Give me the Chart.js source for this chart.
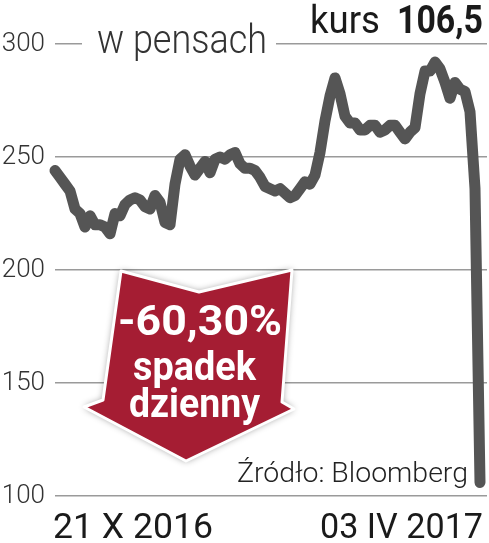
<!DOCTYPE html>
<html>
<head>
<meta charset="utf-8">
<script src="https://cdn.jsdelivr.net/npm/chart.js@4/dist/chart.umd.min.js"></script>
<style>
  body { margin: 0; background: #fff; }
  #wrap { width: 489px; height: 543px; position: relative; }
</style>
</head>
<body>
<div id="wrap"><canvas id="chart"></canvas></div>
<script>
// kurs w pensach, 21 X 2016 - 03 IV 2017 (odczyt z wykresu)
const prices = [
  244, 241, 238, 235, 227, 225, 219, 224, 220, 220,
  219, 216, 225, 224, 229, 231, 232, 231, 228, 227,
  233, 230, 221, 220, 238, 249, 251, 246, 242, 245,
  248, 243, 249, 250, 249, 251, 252, 247, 245, 245,
  244, 241, 237, 236, 235, 236, 234, 232, 233, 236,
  239, 238, 242, 252, 266, 277, 285, 278, 268, 265,
  265, 262, 262, 264, 264, 261, 262, 264, 264, 261,
  258, 261, 263, 278, 288, 288, 292, 289, 283, 276,
  283, 280, 279, 270, 236, 106
];
const yTicks = [100, 150, 200, 250, 300];
const dateLabels = ["21 X 2016", "03 IV 2017"];
const unitLabel = "w pensach";
const lastLabel = "kurs";
const lastValue = "106,5";
const changeLabel = ["-60,30%", "spadek", "dzienny"];
const sourceLabel = "Źródło: Bloomberg";

const points = prices.map((v, i) => ({ x: i, y: v }));

// tekst dopasowany do szerokości (fonty zastępcze są szersze od oryginału)
function fitText(ctx, text, x, y, w, font, color) {
  ctx.save();
  ctx.font = font;
  ctx.fillStyle = color;
  ctx.textAlign = "left";
  ctx.textBaseline = "alphabetic";
  const m = ctx.measureText(text).width;
  ctx.translate(x, y);
  ctx.scale(w / m, 1);
  ctx.fillText(text, 0, 0);
  ctx.restore();
}

const overlay = {
  id: "overlay",
  afterDraw(chart) {
    const ctx = chart.ctx;
    const area = chart.chartArea;
    const y = chart.scales.y;
    const top = y.getPixelForValue(300);

    // podpis jednostki przerywa linię 300
    ctx.fillStyle = "#fff";
    ctx.fillRect(82, top - 14, 194, 28);
    fitText(ctx, unitLabel, 97, top + 9, 170, "300 40px Roboto", "#333");

    fitText(ctx, lastLabel, 310, top - 11, 70, "400 38px Roboto", "#1a1a1a");
    fitText(ctx, lastValue, 397, top - 11, 86, "700 38px Roboto", "#1a1a1a");

    // strzałka
    ctx.save();
    ctx.beginPath();
    ctx.moveTo(121, 271);
    ctx.lineTo(199, 292);
    ctx.lineTo(292, 270);
    ctx.lineTo(282, 402);
    ctx.lineTo(294, 409);
    ctx.lineTo(186, 461);
    ctx.lineTo(84, 407);
    ctx.lineTo(103, 400);
    ctx.closePath();
    ctx.lineJoin = "round";
    ctx.shadowColor = "rgba(0,0,0,0.45)";
    ctx.shadowBlur = 7;
    ctx.fillStyle = "#a51d33";
    ctx.fill();
    ctx.shadowColor = "transparent";
    ctx.strokeStyle = "#fff";
    ctx.lineWidth = 3;
    ctx.stroke();
    ctx.restore();

    fitText(ctx, changeLabel[0], 118, 335, 164, "700 42px Roboto", "#fff");
    fitText(ctx, changeLabel[1], 133, 380, 123, "700 40px Roboto", "#fff");
    fitText(ctx, changeLabel[2], 129, 417, 131, "700 40px Roboto", "#fff");

    fitText(ctx, sourceLabel, 237, 482, 231, "300 28px Roboto", "#222");

    fitText(ctx, dateLabels[0], 53, 538, 160, "400 35px Roboto", "#1a1a1a");
    fitText(ctx, dateLabels[1], 320, 538, 163, "400 35px Roboto", "#1a1a1a");
  }
};

new Chart(document.getElementById("chart"), {
  type: "line",
  data: {
    datasets: [{
      data: points,
      borderColor: "#555",
      borderWidth: 11,
      borderJoinStyle: "round",
      borderCapStyle: "round",
      pointRadius: 0,
      tension: 0,
      clip: false
    }]
  },
  options: {
    responsive: true,
    maintainAspectRatio: false,
    animation: false,
    layout: { padding: { top: 44, bottom: 47, left: 0, right: 2 } },
    plugins: { legend: { display: false }, tooltip: { enabled: false } },
    scales: {
      x: {
        type: "linear",
        min: 0,
        max: 86.4,
        display: false
      },
      y: {
        min: 100,
        max: 300,
        afterFit(scale) { scale.width = 55; },
        afterBuildTicks(scale) { scale.ticks = yTicks.map(v => ({ value: v })); },
        border: { display: false },
        grid: { color: "#9a9a9a", lineWidth: 1.5, drawTicks: false },
        ticks: {
          padding: 10,
          color: "#333",
          font: { family: "Roboto", weight: "300", size: 26 }
        }
      }
    }
  },
  plugins: [overlay]
});
</script>
</body>
</html>
